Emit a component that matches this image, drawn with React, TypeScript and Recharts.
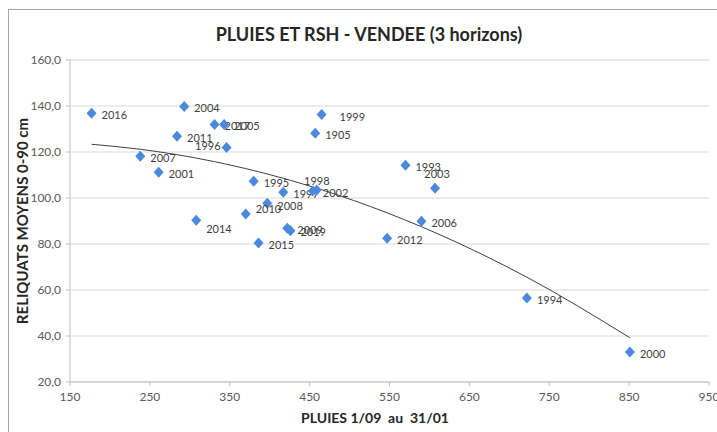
import React from "react";
import {
  ScatterChart,
  Scatter,
  XAxis,
  YAxis,
  CartesianGrid,
} from "recharts";

// years (labels), rainfall 1/09-31/01 (mm), mean residual N 0-90 cm
const years = [
  "2016", "2004", "2017", "2005", "2011", "1996", "2007", "2001", "1999", "1905",
  "1995", "1997", "1998", "2002", "2008", "2010", "2014", "2009", "2019", "2015",
  "1993", "2003", "2006", "2012", "1994", "2000",
];
const pluies = [
  177, 293, 331, 343, 284, 346, 238, 261, 465, 457,
  380, 417, 454, 459, 397, 370, 308, 422, 426, 386,
  570, 607, 590, 547, 722, 851,
];
const reliquats = [
  136.8, 139.8, 132.0, 132.0, 126.8, 122.0, 118.1, 111.2, 136.3, 128.1,
  107.3, 102.5, 103.0, 103.5, 97.7, 93.0, 90.3, 86.9, 85.8, 80.4,
  114.2, 104.2, 89.9, 82.5, 56.5, 33.0,
];

const xTicks = [150, 250, 350, 450, 550, 650, 750, 850, 950];
const yTicks = [20, 40, 60, 80, 100, 120, 140, 160];

// label offsets (dx, dy, anchor) for labels that were moved away from the default right spot
const labelPos: Record<string, [number, number, string]> = {
  "1996": [-6, -2, "end"],
  "1999": [18, 2, "start"],
  "1998": [4, -11, "middle"],
  "2002": [6, 3, "start"],
  "2003": [2, -15, "middle"],
  "2010": [10, -6, "start"],
  "2014": [10, 8, "start"],
  "2008": [10, 2, "start"],
};

const points = years.map((y, i) => ({ year: y, x: pluies[i], y: reliquats[i] }));

// 2nd-order polynomial trend (least squares), as Excel does
function polyFit(xs: number[], ys: number[]) {
  const s = [0, 0, 0, 0, 0];
  const t = [0, 0, 0];
  for (let i = 0; i < xs.length; i++) {
    const x = xs[i];
    for (let k = 0; k < 5; k++) s[k] += Math.pow(x, k);
    for (let k = 0; k < 3; k++) t[k] += ys[i] * Math.pow(x, k);
  }
  const m = [
    [s[0], s[1], s[2], t[0]],
    [s[1], s[2], s[3], t[1]],
    [s[2], s[3], s[4], t[2]],
  ];
  for (let c = 0; c < 3; c++) {
    for (let r = c + 1; r < 3; r++) {
      const f = m[r][c] / m[c][c];
      for (let k = c; k < 4; k++) m[r][k] -= f * m[c][k];
    }
  }
  const coef = [0, 0, 0];
  for (let r = 2; r >= 0; r--) {
    let v = m[r][3];
    for (let k = r + 1; k < 3; k++) v -= m[r][k] * coef[k];
    coef[r] = v / m[r][r];
  }
  return coef;
}

const coef = polyFit(pluies, reliquats);
const trend = [...pluies]
  .sort((a, b) => a - b)
  .map((x) => ({ x, y: coef[0] + coef[1] * x + coef[2] * x * x }));

const BLUE = "#4A89DC";

function Diamond(props: any) {
  const { cx, cy, payload } = props;
  if (cx == null || cy == null) return <g />;
  const pos = labelPos[payload.year] || [10, 1, "start"];
  return (
    <g>
      <path
        d={`M${cx},${cy - 5.5}L${cx + 5},${cy}L${cx},${cy + 5.5}L${cx - 5},${cy}Z`}
        fill={BLUE}
      />
      <text
        x={cx + pos[0]}
        y={cy + pos[1]}
        textAnchor={pos[2] as any}
        dominantBaseline="central"
        fontSize={11}
        fill="#404040"
        fontFamily="Lato, 'Open Sans', sans-serif"
      >
        {payload.year}
      </text>
    </g>
  );
}

const fmt = (v: number) => v.toFixed(1).replace(".", ",");

export default function App() {
  return (
    <div
      style={{
        position: "absolute",
        left: 0,
        top: 0,
        width: 717,
        height: 432,
        overflow: "hidden",
        background: "#fff",
        fontFamily: "Lato, 'Open Sans', sans-serif",
      }}
    >
      <div
        style={{
          position: "absolute",
          left: 8,
          top: 9,
          width: 800,
          height: 500,
          border: "1px solid #a6a6a6",
        }}
      />
      <div
        style={{
          position: "absolute",
          left: 0,
          width: 738,
          top: 23,
          textAlign: "center",
          fontWeight: 700,
          fontSize: 18,
          color: "#262626",
        }}
      >
        PLUIES ET RSH - VENDEE (3 horizons)
      </div>
      <div
        style={{
          position: "absolute",
          left: 0,
          width: 750,
          top: 409,
          textAlign: "center",
          fontWeight: 700,
          fontSize: 14,
          color: "#262626",
          whiteSpace: "pre",
        }}
      >
        {"PLUIES 1/09  au  31/01"}
      </div>
      <div style={{ position: "absolute", left: 0, top: 0 }}>
        <ScatterChart
          width={717}
          height={432}
          margin={{ top: 60, right: 8, bottom: 20, left: 20 }}
        >
          <CartesianGrid vertical={false} stroke="#d9d9d9" />
          <XAxis
            type="number"
            dataKey="x"
            domain={[150, 950]}
            ticks={xTicks}
            interval={0}
            height={30}
            stroke="#bfbfbf"
            tickSize={4}
            tickMargin={6}
            tick={{ fill: "#595959", fontSize: 12 }}
          />
          <YAxis
            type="number"
            dataKey="y"
            domain={[20, 160]}
            ticks={yTicks}
            interval={0}
            width={50}
            stroke="#bfbfbf"
            tickSize={4}
            tickMargin={5}
            tickFormatter={fmt}
            tick={{ fill: "#595959", fontSize: 12 }}
            label={{
              value: "RELIQUATS MOYENS 0-90 cm",
              angle: -90,
              position: "insideLeft",
              offset: 3,
              fill: "#262626",
              fontSize: 15,
              fontWeight: 700,
              style: { textAnchor: "middle" },
            }}
          />
          <Scatter
            data={trend}
            line={{ stroke: "#404040", strokeWidth: 1 }}
            lineJointType="monotoneX"
            shape={() => <g />}
            isAnimationActive={false}
          />
          <Scatter data={points} shape={<Diamond />} isAnimationActive={false} />
        </ScatterChart>
      </div>
    </div>
  );
}
